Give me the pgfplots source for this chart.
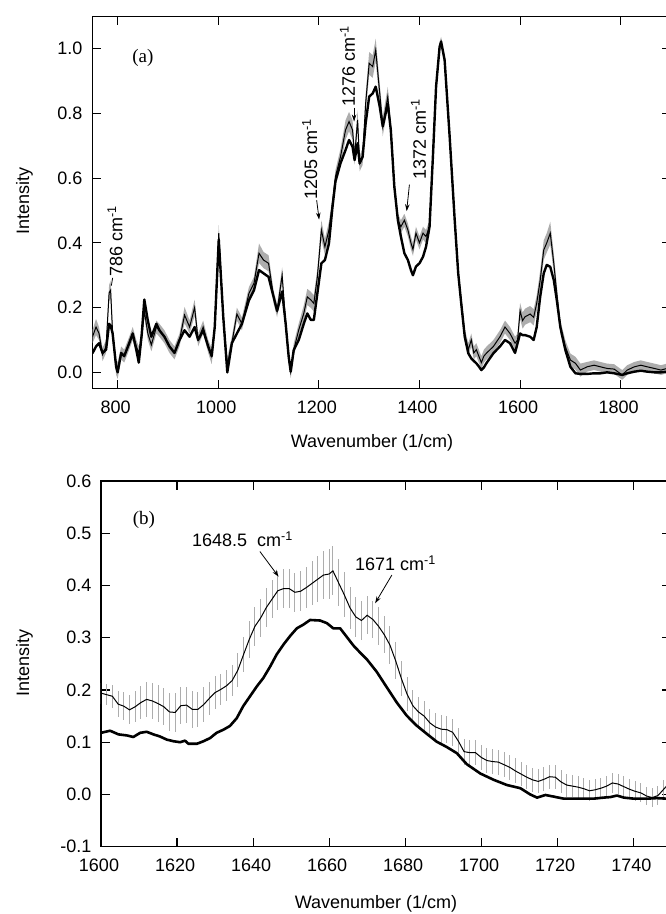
\documentclass[border=0pt]{standalone}
\usepackage{fontspec}
\setmainfont{Liberation Sans}
\newfontfamily\seriffont{Liberation Serif}
\usepackage{pgfplots}
\pgfplotsset{compat=1.18}
\usepackage{pgfplotstable}
\usepgfplotslibrary{fillbetween}
\usetikzlibrary{arrows.meta}

\pgfplotstableread{
x a b e
750 0.059 0.110 0.02
757 0.080 0.140 0.025
763 0.090 0.120 0.02
770 0.060 0.055 0.02
777 0.070 0.080 0.02
783 0.150 0.245 0.025
786 0.145 0.254 0.03
790 0.120 0.120 0.025
797 0.017 0.017 0.025
800 0.000 0.005 0.025
807 0.060 0.060 0.02
813 0.050 0.050 0.02
823 0.090 0.090 0.02
830 0.120 0.120 0.02
837 0.070 0.080 0.02
842 0.030 0.060 0.02
848 0.120 0.110 0.02
853 0.225 0.190 0.02
860 0.160 0.120 0.02
867 0.110 0.085 0.02
877 0.150 0.140 0.02
883 0.130 0.130 0.02
893 0.110 0.110 0.02
903 0.080 0.080 0.02
913 0.060 0.060 0.02
923 0.100 0.100 0.02
933 0.130 0.177 0.025
943 0.110 0.140 0.02
953 0.140 0.200 0.025
960 0.100 0.100 0.02
970 0.130 0.140 0.02
980 0.080 0.080 0.02
987 0.050 0.050 0.025
993 0.140 0.140 0.02
1001 0.410 0.430 0.025
1010 0.170 0.170 0.02
1018 0.000 0.020 0.025
1027 0.090 0.090 0.02
1037 0.120 0.180 0.02
1047 0.150 0.150 0.02
1061 0.223 0.244 0.02
1071 0.254 0.275 0.02
1081 0.316 0.368 0.03
1090 0.306 0.347 0.025
1100 0.295 0.337 0.025
1110 0.233 0.233 0.02
1117 0.190 0.190 0.02
1127 0.250 0.300 0.025
1134 0.150 0.150 0.02
1140 0.048 0.048 0.02
1144 0.002 0.002 0.02
1150 0.069 0.069 0.02
1160 0.100 0.131 0.02
1170 0.150 0.182 0.025
1177 0.182 0.233 0.025
1184 0.162 0.224 0.025
1190 0.162 0.213 0.025
1197 0.244 0.295 0.025
1205 0.337 0.440 0.03
1212 0.347 0.388 0.025
1220 0.398 0.440 0.025
1227 0.510 0.522 0.02
1233 0.590 0.605 0.02
1243 0.646 0.666 0.025
1253 0.687 0.749 0.03
1260 0.718 0.775 0.03
1267 0.697 0.749 0.03
1271 0.656 0.666 0.025
1277 0.708 0.780 0.03
1281 0.646 0.646 0.025
1287 0.666 0.666 0.025
1293 0.770 0.831 0.03
1300 0.852 0.955 0.035
1307 0.862 0.945 0.035
1313 0.883 0.996 0.035
1321 0.821 0.862 0.03
1327 0.760 0.760 0.03
1337 0.830 0.852 0.03
1343 0.749 0.749 0.025
1350 0.574 0.574 0.02
1357 0.471 0.471 0.02
1363 0.420 0.450 0.02
1370 0.368 0.470 0.02
1377 0.347 0.440 0.02
1383 0.316 0.400 0.02
1387 0.300 0.380 0.02
1393 0.327 0.430 0.02
1400 0.337 0.400 0.02
1407 0.357 0.430 0.02
1413 0.388 0.420 0.02
1420 0.450 0.450 0.02
1427 0.677 0.677 0.015
1433 0.883 0.883 0.015
1440 1.006 1.006 0.015
1443 1.022 1.022 0.015
1450 0.965 0.965 0.015
1460 0.728 0.728 0.015
1470 0.471 0.471 0.015
1477 0.306 0.306 0.015
1483 0.213 0.220 0.015
1490 0.110 0.115 0.02
1497 0.059 0.070 0.02
1503 0.043 0.100 0.02
1508 0.035 0.060 0.02
1513 0.028 0.070 0.02
1518 0.018 0.050 0.02
1523 0.007 0.030 0.02
1528 0.015 0.050 0.02
1533 0.028 0.059 0.02
1547 0.059 0.080 0.02
1560 0.080 0.110 0.02
1570 0.100 0.140 0.02
1580 0.090 0.120 0.02
1590 0.060 0.090 0.02
1595 0.090 0.100 0.02
1600 0.120 0.190 0.025
1605 0.115 0.160 0.025
1610 0.115 0.172 0.025
1620 0.110 0.180 0.025
1627 0.100 0.170 0.025
1633 0.140 0.213 0.025
1640 0.234 0.285 0.03
1647 0.306 0.378 0.03
1653 0.332 0.400 0.03
1660 0.326 0.430 0.035
1667 0.285 0.337 0.03
1673 0.223 0.244 0.025
1680 0.140 0.140 0.02
1690 0.069 0.079 0.02
1700 0.017 0.038 0.02
1710 -0.003 0.028 0.02
1720 -0.005 0.007 0.02
1733 -0.005 0.017 0.015
1747 -0.003 0.022 0.015
1760 -0.003 0.017 0.015
1773 0.000 0.012 0.015
1787 -0.003 0.010 0.015
1803 -0.008 -0.008 0.015
1813 -0.003 0.007 0.015
1827 0.002 0.017 0.015
1840 0.005 0.022 0.015
1853 0.002 0.017 0.015
1867 0.000 0.012 0.015
1880 0.000 0.007 0.015
1892 0.002 0.012 0.015
1900 0.002 0.012 0.015
}\topdata

\pgfplotstableread{
x b e
1600.0 0.194 0.020
1601.5 0.191 0.020
1603.0 0.188 0.022
1604.5 0.173 0.025
1606.0 0.169 0.027
1607.5 0.162 0.028
1609.0 0.168 0.030
1610.5 0.176 0.032
1612.0 0.182 0.033
1613.5 0.179 0.034
1615.0 0.174 0.035
1616.5 0.168 0.035
1618.0 0.158 0.036
1619.5 0.157 0.037
1621.0 0.170 0.035
1622.5 0.171 0.035
1624.0 0.163 0.035
1625.5 0.163 0.034
1627.0 0.172 0.033
1628.5 0.184 0.032
1630.0 0.195 0.031
1631.5 0.201 0.030
1633.0 0.208 0.030
1634.5 0.218 0.030
1636.0 0.238 0.032
1637.5 0.268 0.034
1639.0 0.297 0.036
1640.5 0.322 0.037
1642.0 0.338 0.037
1643.5 0.358 0.037
1645.0 0.374 0.037
1646.5 0.390 0.037
1648.0 0.394 0.037
1649.5 0.394 0.037
1651.0 0.387 0.037
1652.5 0.389 0.038
1654.0 0.396 0.040
1655.5 0.404 0.042
1657.0 0.412 0.044
1658.5 0.420 0.046
1660.0 0.422 0.047
1661.0 0.428 0.047
1662.5 0.405 0.045
1664.0 0.382 0.043
1665.5 0.357 0.040
1667.0 0.340 0.038
1668.5 0.333 0.037
1670.0 0.343 0.036
1671.5 0.335 0.036
1673.0 0.322 0.036
1674.5 0.306 0.036
1676.0 0.286 0.036
1677.5 0.256 0.035
1679.0 0.222 0.034
1680.5 0.192 0.032
1682.0 0.170 0.030
1683.5 0.158 0.029
1685.0 0.150 0.028
1686.5 0.137 0.027
1688.0 0.129 0.027
1689.5 0.125 0.027
1691.0 0.124 0.026
1692.5 0.119 0.026
1694.0 0.102 0.025
1695.5 0.082 0.025
1697.0 0.080 0.024
1698.5 0.080 0.024
1700.0 0.071 0.024
1701.5 0.065 0.024
1703.0 0.063 0.024
1704.5 0.062 0.024
1706.0 0.057 0.024
1707.5 0.052 0.024
1709.0 0.045 0.024
1710.5 0.039 0.023
1712.0 0.033 0.023
1713.5 0.028 0.023
1715.0 0.025 0.023
1716.5 0.029 0.023
1718.0 0.034 0.023
1719.5 0.033 0.023
1721.0 0.024 0.022
1722.5 0.018 0.022
1724.0 0.016 0.021
1725.5 0.014 0.021
1727.0 0.011 0.021
1728.5 0.007 0.020
1730.0 0.009 0.020
1731.5 0.012 0.020
1733.0 0.016 0.020
1734.5 0.022 0.020
1736.0 0.020 0.020
1737.5 0.015 0.020
1739.0 0.010 0.019
1740.5 0.006 0.019
1742.0 0.003 0.018
1743.5 -0.003 0.018
1745.0 -0.006 0.018
1746.5 -0.002 0.018
1748.0 0.010 0.018
1749.5 0.022 0.018
}\botthin

\pgfplotstableread{
x a
1600 0.118
1602.4 0.122
1604.6 0.115
1606.8 0.113
1608.5 0.110
1610.3 0.118
1612 0.120
1613.8 0.115
1615.5 0.111
1617.3 0.105
1619 0.102
1620.8 0.100
1622.1 0.103
1623 0.097
1625.2 0.097
1627 0.102
1628.7 0.108
1630.4 0.118
1632.2 0.124
1633.9 0.131
1635.7 0.146
1637.4 0.169
1639.2 0.188
1641 0.207
1642.7 0.223
1644.5 0.245
1646.2 0.268
1648 0.287
1649.7 0.303
1651.5 0.318
1653.2 0.325
1655 0.334
1657.6 0.333
1659.4 0.328
1661.1 0.318
1662.9 0.318
1664.6 0.302
1666.4 0.285
1668.1 0.272
1670 0.258
1672.5 0.235
1675 0.207
1677.8 0.176
1680.4 0.151
1683 0.132
1685.7 0.116
1688.3 0.101
1690.9 0.091
1693.6 0.079
1696.2 0.058
1699.8 0.040
1703.3 0.028
1706.8 0.018
1710.3 0.012
1712.9 0.000
1714.7 -0.006
1716.9 -0.001
1719 -0.004
1721.7 -0.008
1725.2 -0.008
1729.6 -0.008
1732.2 -0.006
1734 -0.005
1735.7 -0.002
1737.5 -0.006
1740.1 -0.008
1743.6 -0.008
1746.2 -0.007
1748.7 -0.008
1750 -0.008
}\botthick

\pgfplotsset{
  spec/.style={
    scale only axis,
    axis line style={line width=1.1pt},
    every tick/.style={black, line width=1.1pt},
    major tick length=9pt,
    tick align=inside,
    minor tick num=0,
    tick label style={font=\fontsize{18}{20}\selectfont, inner sep=0pt},
    /pgf/number format/assume math mode=true,
    /pgf/number format/1000 sep={},
    yticklabel style={/pgf/number format/fixed, /pgf/number format/fixed zerofill, /pgf/number format/precision=1},
    xticklabel style={yshift=-12pt, xshift=-2pt},
  },
}
\tikzset{ann/.style={font=\fontsize{18}{20}\selectfont, inner sep=0pt}}
\newcommand{\cmi}{cm\textsuperscript{-1}}

\begin{document}
\begin{tikzpicture}

% ---------- panel (a) ----------
\begin{axis}[spec,
  at={(92.5pt,-388.5pt)}, anchor=south west,
  width=578.5pt, height=372.1pt,
  xmin=750, xmax=1900, ymin=-0.05, ymax=1.1,
  xtick={800,1000,...,1800},
  ytick={0,0.2,...,1.0},
  yticklabel style={xshift=-10pt},
]
\addplot[name path=up, draw=none, forget plot] table[x=x, y expr=\thisrow{b}+\thisrow{e}] {\topdata};
\addplot[name path=lo, draw=none, forget plot] table[x=x, y expr=\thisrow{b}-\thisrow{e}] {\topdata};
\addplot[black!32, forget plot] fill between[of=up and lo];
\addplot[black, line width=1.0pt] table[x=x, y=b] {\topdata};
\addplot[black, line width=2.4pt, line join=round] table[x=x, y=a] {\topdata};

\node[font=\seriffont\fontsize{19}{20}\selectfont] at (axis cs:850,0.971) {(a)};
\node[ann, rotate=90, anchor=west] at (axis cs:794.6,0.296) {786 \cmi};
\draw[line width=0.8pt] (axis cs:787.5,0.268) -- (axis cs:790,0.292);
\node[ann, rotate=90, anchor=west] at (axis cs:1182,0.532) {1205 \cmi};
\draw[line width=0.8pt, -{Stealth[length=7pt,width=4.5pt]}] (axis cs:1195.6,0.532) -- (axis cs:1200.5,0.472);
\node[ann, rotate=90, anchor=west] at (axis cs:1257,0.821) {1276 \cmi};
\draw[line width=0.8pt, -{Stealth[length=7pt,width=4.5pt]}] (axis cs:1270,0.818) -- (axis cs:1270,0.775);
\node[ann, rotate=90, anchor=west] at (axis cs:1398,0.594) {1372 \cmi};
\draw[line width=0.8pt, -{Stealth[length=7pt,width=4.5pt]}] (axis cs:1380,0.580) -- (axis cs:1374.5,0.498);
\end{axis}

% ---------- panel (b) ----------
\begin{axis}[spec,
  at={(101pt,-846.7pt)}, anchor=south west,
  width=570.3pt, height=365.7pt,
  xmin=1600, xmax=1750, ymin=-0.1, ymax=0.6,
  xtick={1600,1620,...,1740},
  ytick={-0.1,0,0.1,0.2,0.3,0.4,0.5,0.6},
  yticklabel style={xshift=-9.3pt},
]
\addplot[draw=none, forget plot, error bars/.cd, y dir=both, y explicit, error mark=none,
  error bar style={draw=black!32, line width=1.0pt, solid}]
  table[x=x, y=b, y error=e] {\botthin};
\addplot[black, line width=1.0pt] table[x=x, y=b] {\botthin};
\addplot[black, line width=2.6pt, line join=round] table[x=x, y=a] {\botthick};

\node[font=\seriffont\fontsize{19}{20}\selectfont] at (axis cs:1611.3,0.525) {(b)};
\node[ann, anchor=base west] at (axis cs:1623.9,0.474) {1648.5\ \ \cmi};
\draw[line width=0.8pt, -{Stealth[length=7pt,width=4.5pt]}] (axis cs:1641.8,0.465) -- (axis cs:1646.7,0.417);
\node[ann, anchor=base west] at (axis cs:1666.8,0.428) {1671 \cmi};
\draw[line width=0.8pt, -{Stealth[length=7pt,width=4.5pt]}] (axis cs:1676.5,0.420) -- (axis cs:1672.1,0.366);
\end{axis}

% ---------- axis titles ----------
\node[font=\fontsize{18}{20}\selectfont, rotate=90] at (24.5pt,-201pt) {Intensity};
\node[font=\fontsize{18}{20}\selectfont, rotate=90] at (24.5pt,-663pt) {Intensity};
\node[font=\fontsize{18}{20}\selectfont] at (372pt,-443pt) {Wavenumber (1/cm)};
\node[font=\fontsize{18}{20}\selectfont] at (376pt,-904pt) {Wavenumber (1/cm)};

\pgfresetboundingbox
\path[use as bounding box] (0pt,0pt) rectangle (666pt,-914pt);
\end{tikzpicture}
\end{document}
